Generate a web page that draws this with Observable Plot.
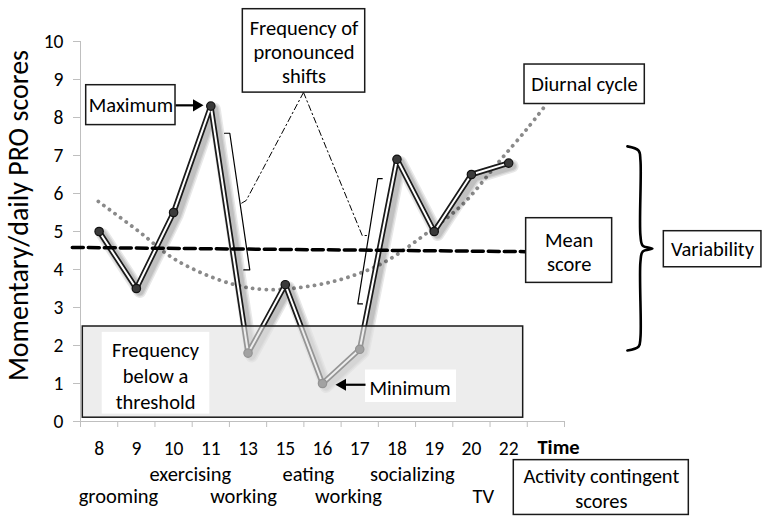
<!DOCTYPE html>
<html>
<head>
<meta charset="utf-8">
<script src="https://cdn.jsdelivr.net/npm/d3@7"></script>
<script src="https://cdn.jsdelivr.net/npm/@observablehq/plot@0.6"></script>
<style>
  html, body { margin: 0; padding: 0; background: #fff; }
  #chart { width: 771px; height: 524px; }
</style>
</head>
<body>
<div id="chart"></div>
<script>
// ---- data ----
const hours = ["8", "9", "10", "11", "13", "15", "16", "17", "18", "19", "20", "22"];
const scores = [5.0, 3.5, 5.5, 8.3, 1.8, 3.6, 1.0, 1.9, 6.9, 5.0, 6.5, 6.8];
const diurnalX = [0.48, 1.53, 2.58, 4.03, 5.02, 6.26, 7.17, 8.14, 9.4, 10.29, 11.2, 12.0, 12.49];
const diurnalY = [5.79, 5.03, 4.24, 3.63, 3.47, 3.58, 3.79, 4.18, 5.03, 5.74, 6.79, 7.71, 8.32];
const meanX = [-0.22, 11.95];
const meanY = [4.58, 4.47];
const threshold = 2.5;
const yTicks = [0, 1, 2, 3, 4, 5, 6, 7, 8, 9, 10];
const activities = ["grooming", "exercising", "working", "eating", "working", "socializing", "TV"];
const activityX = [1.02, 2.95, 4.38, 6.12, 7.2, 8.91, 10.82];
const activityRow = [2, 1, 2, 1, 2, 1, 2];

// ---- annotation layout (data units) ----
const rowY = {1: -1.40, 2: -1.98};
const boxes = [
  {x1: 0.153, x2: 2.552, y1: 7.80, y2: 8.85, label: "Maximum", cx: 1.353, cy: 8.32, lh: 1},
  {x1: 4.36, x2: 7.647, y1: 8.655, y2: 10.85, label: "Frequency of\npronounced\nshifts", cx: 6.003, cy: 9.74, lh: 1.17},
  {x1: 11.926, x2: 15.157, y1: 8.355, y2: 9.394, label: "Diurnal cycle", cx: 13.537, cy: 8.875, lh: 1},
  {x1: 11.97, x2: 14.28, y1: 3.648, y2: 5.35, label: "Mean\nscore", cx: 13.126, cy: 4.48, lh: 1.2},
  {x1: 15.668, x2: 18.29, y1: 4.059, y2: 5.008, label: "Variability", cx: 16.975, cy: 4.533, lh: 1},
  {x1: 11.638, x2: 16.339, y1: -2.459, y2: -1.017, label: "Activity contingent\nscores", cx: 13.99, cy: -1.747, lh: 1.2}
];
const whiteLabels = [
  {x1: 0.583, x2: 3.473, y1: 0.195, y2: 2.346, label: "Frequency\nbelow a\nthreshold", cx: 2.015, cy: 1.23},
  {x1: 7.655, x2: 10.1, y1: 0.50, y2: 1.355, label: "Minimum", cx: 8.85, cy: 0.915}
];
const bracket1 = [[3.868, 7.586], [4.01, 7.586], [4.547, 3.99], [4.386, 3.99]];
const bracket2 = [[8.104, 6.389], [7.986, 6.389], [7.448, 3.094], [7.574, 3.094]];
const leader1 = [[5.99, 8.66], [4.451, 5.817], [4.316, 5.738]];
const leader2 = [[5.99, 8.66], [7.567, 4.894], [7.682, 4.894]];
const brace = [[14.69, 7.24], [14.99, 7.13], [15.04, 6.87], [15.04, 4.89], [15.1, 4.63], [15.36, 4.55],
               [15.1, 4.47], [15.04, 4.21], [15.04, 2.21], [14.99, 1.97], [14.69, 1.87]];
const arrows = [
  {x1: 2.552, x2: 3.05, y: 8.32, hx: 3.116, rot: 90},
  {x1: 7.655, x2: 7.1, y: 0.967, hx: 7.037, rot: -90}
];
const shadowWidths = [13, 10, 7.5];

const series = hours.map((h, i) => ({i: i + 0.5, hour: h, v: scores[i]}));
const diurnal = diurnalX.map((x, i) => ({x, y: diurnalY[i]}));
const mean = meanX.map((x, i) => ({x, y: meanY[i]}));
const acts = activities.map((a, i) => ({a, x: activityX[i], y: rowY[activityRow[i]]}));
const pts = a => a.map(([x, y]) => ({x, y}));

const FONT = "Carlito, Calibri, Lato, 'Open Sans', sans-serif";
const FS = 20.5;

const svg = Plot.plot({
  width: 771,
  height: 524,
  marginLeft: 80,
  marginRight: 207,
  marginTop: 41,
  marginBottom: 103,
  style: {fontFamily: FONT, fontSize: "19px", color: "#000", background: "#fff", overflow: "visible"},
  x: {type: "linear", domain: [0, 13], axis: null},
  y: {type: "linear", domain: [0, 10], axis: null},
  marks: [
    // axes
    Plot.ruleX([0], {stroke: "#bfbfbf", strokeWidth: 1}),
    Plot.ruleY([0], {stroke: "#bfbfbf", strokeWidth: 1}),
    Plot.axisY({ticks: yTicks, tickSize: 7, tickPadding: 10, stroke: "#bfbfbf", fill: "#000", fontSize: 19.5, label: null}),
    Plot.axisX({ticks: d3.range(0, 14), tickSize: 6, tickFormat: () => "", stroke: "#bfbfbf", label: null}),
    Plot.axisX({ticks: series.map(d => d.i), tickSize: 0, tickPadding: 20, tickFormat: d => hours[Math.floor(d)], fill: "#000", fontSize: 19.5, label: null}),
    Plot.text(["Time"], {x: 12.84, y: -0.685, fontWeight: "bold", fontSize: FS}),
    Plot.text(acts, {x: "x", y: "y", text: "a", fontSize: FS}),
    Plot.text(["Momentary/daily PRO scores"], {frameAnchor: "left", dx: -61, y: 5.42, rotate: -90, textAnchor: "middle", fontSize: 28, ariaLabel: "ytitle"}),

    // diurnal cycle
    Plot.line(diurnal, {x: "x", y: "y", curve: "catmull-rom", stroke: "#8a8a8a", strokeWidth: 3.8, strokeDasharray: "0.1 6.8", strokeLinecap: "round"}),

    // soft shadow of the data line (stacked translucent strokes)
    ...shadowWidths.map(w => Plot.line(series, {x: "i", y: "v", stroke: "#000", strokeOpacity: 0.09, strokeWidth: w, dx: 3.5, dy: 3, strokeLinejoin: "round", strokeLinecap: "round"})),
    // data line with double stroke
    Plot.line(series, {x: "i", y: "v", stroke: "#1a1a1a", strokeWidth: 5.5, strokeLinejoin: "round"}),
    Plot.line(series, {x: "i", y: "v", stroke: "#fff", strokeWidth: 2, strokeLinejoin: "round"}),
    Plot.dot(series, {x: "i", y: "v", r: 4.2, fill: "#3a3a3a", stroke: "#111", strokeWidth: 1.2}),

    // threshold region
    Plot.rect([threshold], {x1: 0.062, x2: 11.89, y1: 0.1, y2: d => d, fill: "#e2e2e2", fillOpacity: 0.62, stroke: "#1a1a1a", strokeWidth: 1.5}),
    Plot.rect(whiteLabels, {x1: "x1", x2: "x2", y1: "y1", y2: "y2", fill: "#fff"}),
    Plot.text(whiteLabels, {x: "cx", y: "cy", text: "label", fontSize: FS, lineHeight: 1.27}),

    // mean score
    Plot.line(mean, {x: "x", y: "y", stroke: "#000", strokeWidth: 3.5, strokeDasharray: "11 5"}),

    // brackets and leaders
    Plot.line(pts(bracket1), {x: "x", y: "y", stroke: "#000", strokeWidth: 1.2}),
    Plot.line(pts(bracket2), {x: "x", y: "y", stroke: "#000", strokeWidth: 1.2}),
    Plot.line(pts(leader1), {x: "x", y: "y", stroke: "#000", strokeWidth: 1, strokeDasharray: "6 3 1.5 3"}),
    Plot.line(pts(leader2), {x: "x", y: "y", stroke: "#000", strokeWidth: 1, strokeDasharray: "6 3 1.5 3"}),

    // brace
    Plot.line(pts(brace), {x: "x", y: "y", curve: "catmull-rom", stroke: "#000", strokeWidth: 2.6}),

    // arrows
    Plot.link(arrows, {x1: "x1", x2: "x2", y1: "y", y2: "y", stroke: "#000", strokeWidth: 2.2}),
    Plot.dot(arrows, {x: "hx", y: "y", symbol: "triangle", r: 4.5, fill: "#000", stroke: "none", rotate: "rot"}),

    // annotation boxes
    Plot.rect(boxes, {x1: "x1", x2: "x2", y1: "y1", y2: "y2", fill: "#fff", stroke: "#1a1a1a", strokeWidth: 1.5}),
    Plot.text(boxes.filter(b => b.lh === 1), {x: "cx", y: "cy", text: "label", fontSize: FS}),
    Plot.text(boxes.filter(b => b.lh === 1.17), {x: "cx", y: "cy", text: "label", fontSize: FS, lineHeight: 1.17}),
    Plot.text(boxes.filter(b => b.lh === 1.2), {x: "cx", y: "cy", text: "label", fontSize: FS, lineHeight: 1.2})
  ]
});

d3.select(svg).selectAll("g").filter(function() { return this.getAttribute("aria-label") === "ytitle"; })
  .selectAll("text").style("letter-spacing", "0.8px");

document.getElementById("chart").appendChild(svg);
</script>
</body>
</html>
